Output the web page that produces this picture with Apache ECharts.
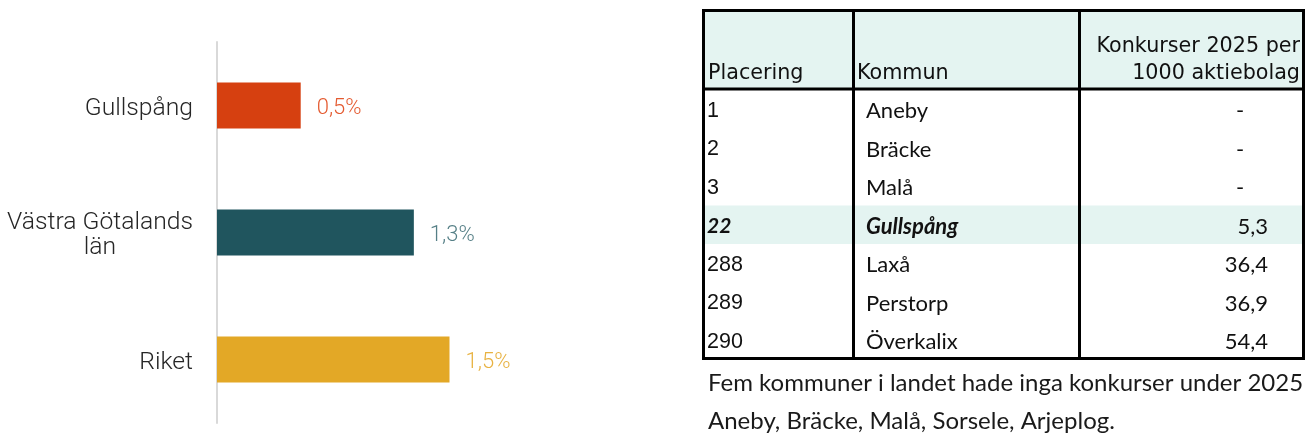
<!DOCTYPE html>
<html>
<head>
<meta charset="utf-8">
<script src="https://cdn.jsdelivr.net/npm/echarts@6/dist/echarts.min.js"></script>
<style>
  html, body { margin: 0; padding: 0; background: #fff; }
  #main { width: 1305px; height: 435px; }
</style>
</head>
<body>
<div id="main"></div>
<script>
// stapeldiagram
var categories = ['Gullspång', 'Västra Götalands\nlän', 'Riket'];
var values = [0.54, 1.27, 1.5];
var barColors = ['#d64010', '#20555e', '#e3a826'];
var labelColors = ['#e45a30', '#557f86', '#e8b241'];

// tabell
var headers = ['Placering', 'Kommun', 'Konkurser 2025 per\n1000 aktiebolag'];
var placering = ['1', '2', '3', '22', '288', '289', '290'];
var kommun = ['Aneby', 'Bräcke', 'Malå', 'Gullspång', 'Laxå', 'Perstorp', 'Överkalix'];
var konkurser = ['-', '-', '-', '5,3', '36,4', '36,9', '54,4'];
var markedRow = 3;
var footnotes = ['Fem kommuner i landet hade inga konkurser under 2025', 'Aneby, Bräcke, Malå, Sorsele, Arjeplog.'];

var catSize = 24.7;
var ctx = document.createElement('canvas').getContext('2d');
ctx.font = '300 ' + catSize + 'px Roboto';
var firstLineW = Math.ceil(ctx.measureText('Västra Götalands').width);

var chart = echarts.init(document.getElementById('main'));

// bygg tabellen
var g = [];
var tLeft = 703.5, tRight = 1303.5, tTop = 10.5, tBottom = 358.5;
var col1 = 853.5, col2 = 1079.5, headBottom = 89;
var rowTop = 89, rowH = 38.5;
var green = '#e4f4f1';

g.push({ type: 'rect', shape: { x: tLeft, y: tTop, width: tRight - tLeft, height: headBottom - tTop }, style: { fill: green }, z: 1 });
g.push({ type: 'rect', shape: { x: tLeft, y: rowTop + rowH * markedRow + 1, width: tRight - tLeft, height: rowH }, style: { fill: green }, z: 1 });

var lines = [
    [tLeft, tTop, tRight, tTop],
    [tLeft, tBottom, tRight, tBottom],
    [tLeft, tTop - 1.5, tLeft, tBottom + 1.5],
    [tRight, tTop - 1.5, tRight, tBottom + 1.5],
    [col1, tTop, col1, tBottom],
    [col2, tTop, col2, tBottom],
    [tLeft, headBottom, tRight, headBottom]
];
lines.forEach(function (l) {
    g.push({ type: 'line', shape: { x1: l[0], y1: l[1], x2: l[2], y2: l[3] }, style: { stroke: '#000', lineWidth: 3 }, z: 5 });
});

var headFont = { fontFamily: 'DejaVu Sans', fontSize: 20.7, fill: '#111' };
g.push({ type: 'text', z: 6, style: Object.assign({ x: 708, y: 73.5, text: headers[0], verticalAlign: 'middle', align: 'left' }, headFont) });
g.push({ type: 'text', z: 6, style: Object.assign({ x: 857, y: 73.5, text: headers[1], verticalAlign: 'middle', align: 'left' }, headFont) });
g.push({ type: 'text', z: 6, style: Object.assign({ x: 1300, y: 60, text: headers[2], verticalAlign: 'middle', align: 'right', lineHeight: 27 }, headFont) });

placering.forEach(function (p, i) {
    var y = rowTop + rowH * i + 22;
    var bold = i === markedRow;
    g.push({ type: 'text', z: 6, style: {
        x: 707, y: y, text: p, verticalAlign: 'middle', align: 'left',
        fontFamily: bold ? 'Lato' : 'Liberation Sans', fontSize: bold ? 21 : 21.5,
        fontWeight: bold ? 'bold' : 'normal', fontStyle: bold ? 'italic' : 'normal', fill: '#111'
    } });
    g.push({ type: 'text', z: 6, style: {
        x: 866, y: y, text: kommun[i], verticalAlign: 'middle', align: 'left',
        fontFamily: 'Lato', fontSize: 22,
        fontWeight: bold ? 'bold' : 'normal', fontStyle: bold ? 'italic' : 'normal', fill: '#111'
    } });
    var v = konkurser[i];
    g.push({ type: 'text', z: 6, style: {
        x: v === '-' ? 1240 : 1268, y: y, text: v, verticalAlign: 'middle', align: v === '-' ? 'center' : 'right',
        fontFamily: 'Lato', fontSize: 22, fill: '#111'
    } });
});

footnotes.forEach(function (t, i) {
    g.push({ type: 'text', z: 6, style: {
        x: 708, y: 383 + 38 * i, text: t, verticalAlign: 'middle', align: 'left',
        fontFamily: 'Lato', fontSize: 24, fill: '#1a1a1a'
    } });
});

var option = {
    animation: false,
    backgroundColor: '#fff',
    grid: { left: 217, top: 42, width: 310, height: 381 },
    xAxis: {
        type: 'value', min: 0, max: 2, show: false, splitLine: { show: false }
    },
    yAxis: {
        type: 'category',
        data: categories,
        inverse: true,
        offset: 1,
        axisTick: { show: false },
        axisLine: { show: true, lineStyle: { color: '#d9d9d9', width: 2 } },
        axisLabel: {
            margin: 23,
            color: '#262626',
            fontFamily: 'Roboto',
            fontWeight: 300,
            fontSize: catSize,
            lineHeight: 25,
            padding: [6, 0, 0, 0],
            formatter: function (v) {
                var parts = v.split('\n');
                if (parts.length > 1) return '{a|' + parts[0] + '}\n{b|' + parts[1] + '}';
                return '{a|' + v + '}';
            },
            rich: {
                a: { fontFamily: 'Roboto', fontWeight: 300, fontSize: catSize, lineHeight: 25, color: '#262626' },
                b: { fontFamily: 'Roboto', fontWeight: 300, fontSize: catSize, lineHeight: 25, color: '#262626', width: firstLineW, align: 'center' }
            }
        }
    },
    series: [{
        type: 'bar',
        barWidth: 46,
        data: values.map(function (v, i) {
            return {
                value: v,
                itemStyle: { color: barColors[i] },
                label: { color: labelColors[i] }
            };
        }),
        label: {
            show: true,
            position: 'right',
            distance: 16,
            offset: [0, 3],
            fontFamily: 'Roboto',
            fontWeight: 300,
            fontSize: 22,
            formatter: function (p) {
                return p.value.toFixed(1).replace('.', ',') + '%';
            }
        }
    }],
    graphic: g
};
chart.setOption(option);
</script>
</body>
</html>
